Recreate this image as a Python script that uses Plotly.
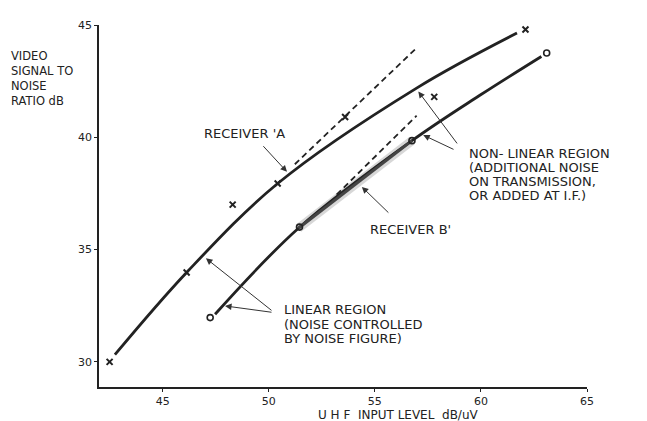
import plotly.graph_objects as go

# ---- data ----
# Receiver A measured points (x markers)
rx_a_x = [42.5, 46.13, 48.3, 50.42, 53.6, 57.8, 62.1]
rx_a_y = [30.0, 33.98, 37.0, 37.94, 40.9, 41.8, 44.8]
# Receiver B measured points (o markers)
rx_b_x = [47.24, 51.45, 56.75, 63.1]
rx_b_y = [31.97, 36.0, 39.85, 43.75]
# Fitted curves (hand drawn)
curve_a_x = [42.75, 46.13, 50.42, 56.97, 61.7]
curve_a_y = [30.32, 33.98, 37.94, 42.19, 44.64]
curve_b_x = [47.47, 51.4, 56.75, 59.95, 62.85]
curve_b_y = [32.12, 35.95, 39.85, 41.87, 43.6]
# gray (smudged) section of curve B
curve_b_mid_x = [51.4, 56.75]
curve_b_mid_y = [35.95, 39.85]
# Linear extrapolations (dashed)
dash_a_x = [51.23, 56.97]
dash_a_y = [38.8, 43.98]
dash_b_x = [53.2, 56.97]
dash_b_y = [37.45, 40.96]

x_ticks = [45, 50, 55, 60, 65]
y_ticks = [30, 35, 40, 45]

y_title_lines = ["VIDEO", "SIGNAL TO", "NOISE", "RATIO dB"]
nonlinear_lines = ["NON- LINEAR REGION", "(ADDITIONAL NOISE", "ON TRANSMISSION,", "OR ADDED AT I.F.)"]
linear_lines = ["LINEAR REGION", "(NOISE CONTROLLED", "BY NOISE FIGURE)"]

INK = "#222222"
FONT = "DejaVu Sans"

fig = go.Figure()

fig.add_trace(go.Scatter(x=curve_b_mid_x, y=curve_b_mid_y, mode="lines",
                         line=dict(color="rgba(140,140,140,0.35)", width=9),
                         hoverinfo="skip", showlegend=False))
fig.add_trace(go.Scatter(x=curve_a_x, y=curve_a_y, mode="lines",
                         line=dict(color=INK, width=2.8, shape="spline", smoothing=1.0),
                         showlegend=False))
fig.add_trace(go.Scatter(x=curve_b_x, y=curve_b_y, mode="lines",
                         line=dict(color=INK, width=2.8, shape="spline", smoothing=1.0),
                         showlegend=False))
fig.add_trace(go.Scatter(x=curve_b_mid_x, y=curve_b_mid_y, mode="lines",
                         line=dict(color="#444444", width=3),
                         showlegend=False))
fig.add_trace(go.Scatter(x=dash_a_x, y=dash_a_y, mode="lines",
                         line=dict(color=INK, width=1.8, dash="6px,4px"),
                         showlegend=False))
fig.add_trace(go.Scatter(x=dash_b_x, y=dash_b_y, mode="lines",
                         line=dict(color=INK, width=1.8, dash="6px,4px"),
                         showlegend=False))
fig.add_trace(go.Scatter(x=rx_a_x, y=rx_a_y, mode="markers", name="Receiver A",
                         marker=dict(symbol="x-thin", size=6,
                                     line=dict(width=2, color=INK)),
                         showlegend=False))
fig.add_trace(go.Scatter(x=rx_b_x, y=rx_b_y, mode="markers", name="Receiver B",
                         marker=dict(symbol="circle-open", size=6, color=INK,
                                     line=dict(width=1.6, color=INK)),
                         showlegend=False))

def arrow(hx, hy, tx, ty):
    fig.add_annotation(x=hx, y=hy, ax=tx, ay=ty, xref="x", yref="y",
                       axref="x", ayref="y", text="", showarrow=True,
                       arrowhead=2, arrowsize=1.3, arrowwidth=1,
                       arrowcolor="#333333", standoff=0, startstandoff=0)

arrow(50.86, 38.46, 49.68, 39.67)   # RECEIVER 'A
arrow(54.39, 37.79, 55.71, 36.58)   # RECEIVER B'
arrow(47.04, 34.61, 50.2, 32.24)    # linear -> A
arrow(47.94, 32.49, 50.2, 32.2)     # linear -> B
arrow(57.05, 42.04, 58.93, 39.66)   # non-linear -> A
arrow(57.28, 40.1, 58.78, 39.43)    # non-linear -> B

def label(x, y, text, xref="x", yref="y", xanchor="left", yanchor="middle",
          align="left", size=13):
    fig.add_annotation(x=x, y=y, xref=xref, yref=yref, text=text, showarrow=False,
                       xanchor=xanchor, yanchor=yanchor, align=align,
                       font=dict(family=FONT, size=size, color=INK))

# plot area in page pixels: x 99..587, y 19..379
def px(p):
    return (p - 99) / 488.0

def py(p):
    return (379 - p) / 360.0

def block(lines, left, first_y, step, size=13):
    for i, t in enumerate(lines):
        label(px(left), py(first_y + i * step), t, xref="paper", yref="paper", size=size)

label(46.85, 40.16, "RECEIVER 'A")
label(54.68, 35.91, "RECEIVER B'")
block(nonlinear_lines, 467, 147, 14)
block(linear_lines, 282, 302, 14.5)
label(px(9), py(72), "<br>".join(y_title_lines), xref="paper", yref="paper", size=11.5)
label(0.613, -0.078, "U H F&nbsp;&nbsp;INPUT LEVEL&nbsp;&nbsp;dB/uV", xref="paper", yref="paper",
      xanchor="center", size=12)

axis_common = dict(showgrid=False, zeroline=False, showline=True, linecolor=INK,
                   linewidth=1.5, ticks="outside", ticklen=3, tickwidth=1.2,
                   tickcolor=INK, tickfont=dict(family=FONT, size=11, color=INK),
                   mirror=False)

fig.update_xaxes(range=[42, 65], tickvals=x_ticks, ticktext=[str(v) for v in x_ticks],
                 **axis_common)
fig.update_yaxes(range=[28.88, 45], tickvals=y_ticks, ticktext=[str(v) for v in y_ticks],
                 **axis_common)

# page body adds an 8px offset; size the figure so the plot area lands on the reference
fig.update_layout(width=639, height=413, margin=dict(l=91, r=60, t=11, b=34),
                  plot_bgcolor="white", paper_bgcolor="white", showlegend=False)

fig.write_html("out.html")
